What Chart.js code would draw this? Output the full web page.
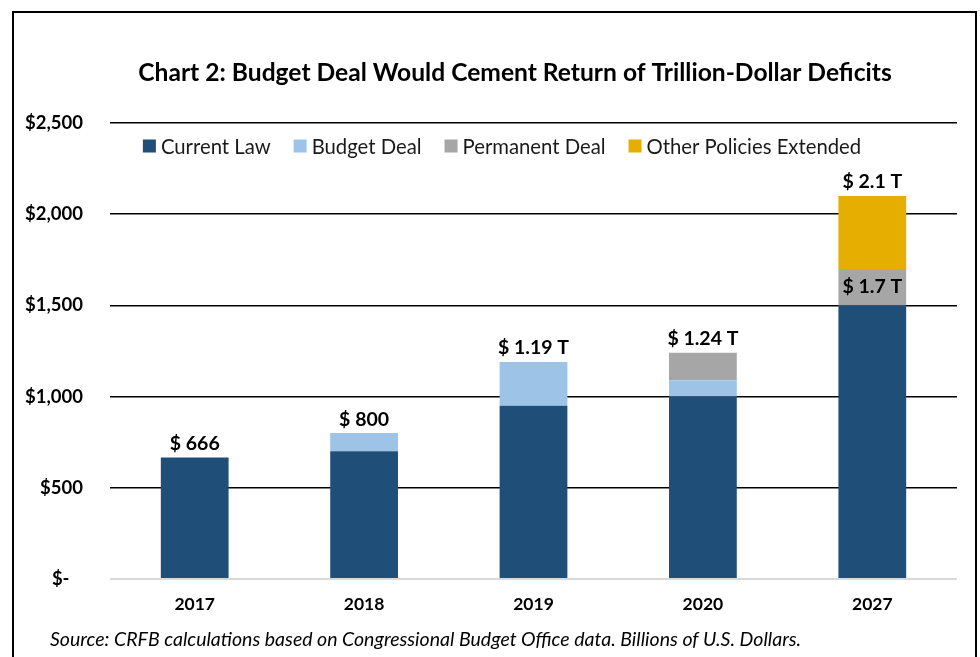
<!DOCTYPE html>
<html>
<head>
<meta charset="utf-8">
<script src="https://cdn.jsdelivr.net/npm/chart.js@4/dist/chart.umd.min.js"></script>
<style>
  html, body { margin: 0; padding: 0; background: #fff; }
  #wrap { position: relative; width: 980px; height: 657px; }
  #frame { position: absolute; left: 12px; top: 11px; width: 961px; height: 700px;
           border: 2px solid #000; pointer-events: none; }
</style>
</head>
<body>
<div id="wrap">
  <canvas id="deficitChart" width="980" height="657"></canvas>
  <div id="frame"></div>
</div>
<script>
const years = ['2017', '2018', '2019', '2020', '2027'];
const currentLaw = [666, 700, 950, 1000, 1500];
const budgetDeal = [0, 100, 240, 90, 0];
const permanentDeal = [0, 0, 0, 150, 200];
const otherPolicies = [0, 0, 0, 0, 400];
const topLabels = ['$ 666', '$ 800', '$ 1.19 T', '$ 1.24 T', '$ 2.1 T'];
// label that sits inside the grey segment of 2027
const innerLabels = ['', '', '', '', '$ 1.7 T'];
const yTicks = [0, 500, 1000, 1500, 2000, 2500];

const titleText = 'Chart 2: Budget Deal Would Cement Return of Trillion-Dollar Deficits';
const sourceText = 'Source: CRFB calculations based on Congressional Budget Office data. Billions of U.S. Dollars.';

const FONT = 'Lato, "Open Sans", sans-serif';

// title, legend row, value labels and source line
const decorations = {
    id: 'decorations',
    afterDatasetsDraw(chart) {
        const ctx = chart.ctx;
        const y = chart.scales.y;
        const x = chart.scales.x;
        const area = chart.chartArea;
        ctx.save();

        ctx.fillStyle = '#000';
        ctx.font = 'bold 24.6px ' + FONT;
        ctx.textAlign = 'center';
        ctx.textBaseline = 'middle';
        ctx.fillText(titleText, chart.width / 2 + 25, 73);

        // legend
        ctx.font = '20.3px ' + FONT;
        const items = chart.data.datasets;
        const box = 13, gapText = 5, gapItem = 23;
        let total = 0;
        items.forEach((d, i) => {
            total += box + gapText + ctx.measureText(d.label).width;
            if (i < items.length - 1) total += gapItem;
        });
        let lx = chart.width / 2 + 12 - total / 2;
        const ly = area.top + 23;
        ctx.textAlign = 'left';
        items.forEach(d => {
            ctx.fillStyle = d.backgroundColor;
            ctx.fillRect(lx, ly - box / 2, box, box);
            lx += box + gapText;
            ctx.fillStyle = '#1a1a1a';
            ctx.fillText(d.label, lx, ly + 1);
            lx += ctx.measureText(d.label).width + gapItem;
        });

        // value labels
        ctx.font = 'bold 19.5px ' + FONT;
        ctx.fillStyle = '#000';
        ctx.textAlign = 'center';
        years.forEach((yr, i) => {
            const sum = currentLaw[i] + budgetDeal[i] + permanentDeal[i] + otherPolicies[i];
            const cx = x.getPixelForValue(i);
            ctx.textBaseline = 'bottom';
            ctx.fillText(topLabels[i], cx, y.getPixelForValue(sum) - 4);
            if (innerLabels[i]) {
                const mid = currentLaw[i] + budgetDeal[i] + permanentDeal[i] / 2;
                ctx.textBaseline = 'middle';
                ctx.fillText(innerLabels[i], cx, y.getPixelForValue(mid));
            }
        });

        // source note
        ctx.font = 'italic 19.5px ' + FONT;
        ctx.textAlign = 'left';
        ctx.textBaseline = 'middle';
        ctx.fillText(sourceText, 50, 640);
        ctx.restore();
    }
};

const bg = {
    id: 'bg',
    beforeDraw(chart) {
        const ctx = chart.ctx;
        ctx.save();
        ctx.fillStyle = '#fff';
        ctx.fillRect(0, 0, chart.width, chart.height);
        ctx.restore();
    }
};

const ctx = document.getElementById('deficitChart').getContext('2d');
new Chart(ctx, {
    type: 'bar',
    data: {
        labels: years,
        datasets: [
            { label: 'Current Law', data: currentLaw, backgroundColor: '#1F4E79' },
            { label: 'Budget Deal', data: budgetDeal, backgroundColor: '#9DC3E6' },
            { label: 'Permanent Deal', data: permanentDeal, backgroundColor: '#A6A6A6' },
            { label: 'Other Policies Extended', data: otherPolicies, backgroundColor: '#E6AE00' }
        ]
    },
    options: {
        responsive: false,
        animation: false,
        devicePixelRatio: 1,
        layout: { padding: { top: 123, left: 0, right: 23, bottom: 42 } },
        datasets: { bar: { barPercentage: 0.4, categoryPercentage: 1.0 } },
        plugins: {
            title: { display: false },
            legend: { display: false },
            tooltip: { enabled: false }
        },
        scales: {
            x: {
                stacked: true,
                grid: { display: false, drawTicks: false },
                border: { display: false },
                afterFit(axis) { axis.height = 36; },
                ticks: { color: '#000', padding: 15, font: { family: FONT, size: 17.5, weight: 'bold' } }
            },
            y: {
                stacked: true,
                min: 0,
                max: 2500,
                afterBuildTicks(axis) { axis.ticks = yTicks.map(v => ({ value: v })); },
                afterFit(axis) { axis.width = 110; },
                border: { display: false },
                grid: {
                    drawTicks: false,
                    color: c => c.tick.value === 0 ? '#D9D9D9' : '#000',
                    lineWidth: c => c.tick.value === 0 ? 2 : 1.5
                },
                ticks: {
                    color: '#000',
                    padding: 27,
                    font: { family: FONT, size: 18.5, weight: 'bold' },
                    callback: v => v === 0 ? '$-   ' : '$' + v.toLocaleString('en-US')
                }
            }
        }
    },
    plugins: [bg, decorations]
});
</script>
</body>
</html>
